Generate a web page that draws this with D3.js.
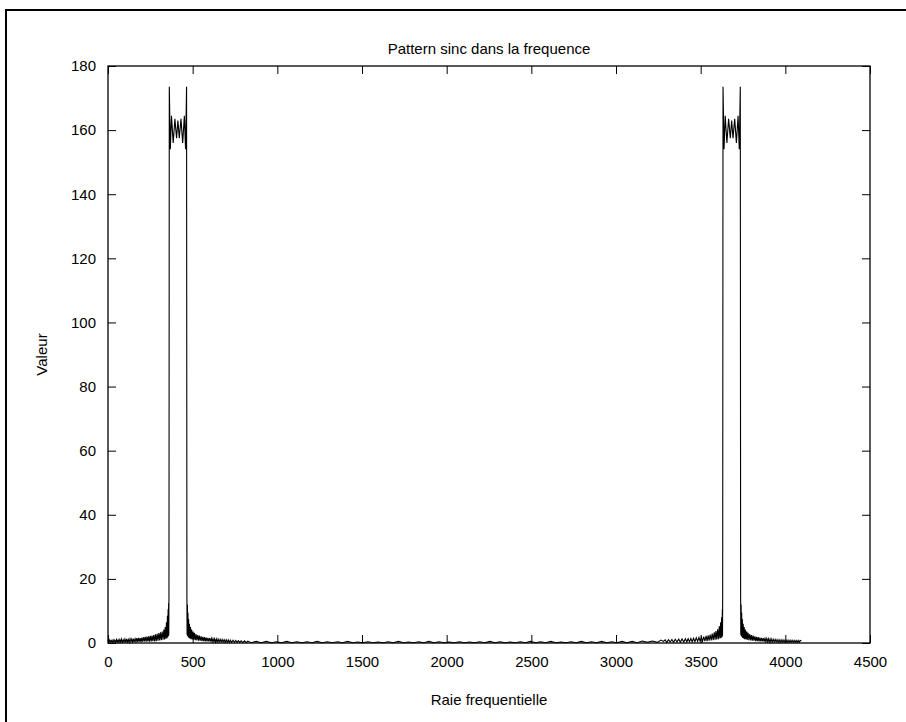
<!DOCTYPE html>
<html>
<head>
<meta charset="utf-8">
<script src="https://cdn.jsdelivr.net/npm/d3@7"></script>
<style>
  html, body { margin: 0; padding: 0; background: #fff; }
  svg { display: block; }
  text { font-family: "Liberation Sans", Arial, Helvetica, sans-serif; }
</style>
</head>
<body>
<svg id="chart" width="906" height="722"></svg>
<script>
// ---- data ----
const title = "Pattern sinc dans la frequence";
const xLabel = "Raie frequentielle";
const yLabel = "Valeur";
const xTicks = [0, 500, 1000, 1500, 2000, 2500, 3000, 3500, 4000, 4500];
const yTicks = [0, 20, 40, 60, 80, 100, 120, 140, 160, 180];

// [raie, valeur] pairs
const leftSkirt = [
  [0,0.9],[5,0.2],[10,1.0],[15,0.3],[20,0.8],[25,0.2],[30,1.0],[35,0.3],[40,0.9],[45,0.2],
  [50,1.1],[55,0.3],[60,1.0],[65,0.2],[70,1.1],[75,0.3],[80,1.2],[85,0.2],[90,1.0],[95,0.3],
  [100,1.2],[105,0.2],[110,1.3],[115,0.3],[120,1.1],[125,0.2],[130,1.3],[135,0.4],[140,1.2],[145,0.3],
  [150,1.4],[155,0.3],[160,1.3],[165,0.4],[170,1.5],[175,0.3],[180,1.6],[185,0.4],[190,1.5],[195,0.3],
  [200,1.7],[205,0.4],[210,1.8],[215,0.5],[220,1.9],[225,0.4],[230,2.0],[235,0.5],[240,2.1],[245,0.4],
  [250,2.2],[255,0.5],[260,2.3],[265,0.6],[270,2.5],[275,0.5],[280,2.7],[285,0.6],[290,2.9],[295,0.7],
  [300,3.1],[305,0.8],[310,3.3],[315,0.9],[320,3.6],[325,1.0],[330,4.2],[334,1.1],[338,5.0],[342,1.3],
  [345,6.5],[348,1.5],[351,8.5],[353,1.8],[355,10.5],[357,2.2],[358,12.5],[359,2.6],[360,15.0]
];
const leftBand = [
  [362,173.5],[368,154],[375,164.5],[385,156],[395,163.5],[405,157.5],[413,163],[421,157.5],
  [431,163.5],[441,156],[451,164.5],[458,154],[464,173.5]
];
const leftTail = [
  [466,15.0],[467,2.6],[469,12.0],[470,2.2],[472,9.5],[474,1.9],[476,7.5],[478,1.6],[481,6.0],[484,1.4],
  [487,5.0],[490,1.2],[494,4.2],[498,1.1],[502,3.6],[506,1.0],[510,3.2],[515,0.9],[520,2.8],[525,0.8],
  [530,2.5],[535,0.7],[540,2.3],[545,0.7],[550,2.1],[555,0.6],[560,1.9],[565,0.6],[570,1.8],[575,0.5],
  [580,1.7],[585,0.5],[590,1.6],[595,0.5],[600,1.5],[605,0.4],[610,1.4],[615,0.4],[620,1.35],[625,0.4],
  [630,1.3],[635,0.3],[640,1.25],[645,0.3],[650,1.2],[656,0.3],[662,1.15],[668,0.3],[674,1.1],[680,0.3],
  [686,1.05],[692,0.2],[698,1.0],[704,0.2],[710,0.95],[716,0.2],[722,0.9],[730,0.2],[738,0.85],[746,0.2],
  [754,0.8],[762,0.2],[770,0.75],[778,0.2],[786,0.7],[796,0.1],[806,0.65],[816,0.1],[826,0.6]
];
const middle = [
  [845,0.1],[875,0.5],[905,0.1],[935,0.5],[965,0.1],[995,0.4],[1025,0.1],[1055,0.5],[1085,0.1],[1115,0.4],
  [1145,0.1],[1175,0.4],[1205,0.1],[1235,0.5],[1265,0.1],[1295,0.4],[1325,0.1],[1355,0.4],[1385,0.1],[1415,0.5],
  [1445,0.1],[1475,0.3],[1505,0.1],[1535,0.4],[1565,0.1],[1595,0.3],[1625,0.1],[1655,0.4],[1685,0.1],[1715,0.5],
  [1745,0.1],[1775,0.3],[1805,0.1],[1835,0.4],[1865,0.1],[1895,0.5],[1925,0.1],[1955,0.4],[1985,0.1],[2015,0.3],
  [2045,0.1],[2075,0.4],[2105,0.1],[2135,0.3],[2165,0.1],[2195,0.4],[2225,0.1],[2255,0.5],[2285,0.1],[2315,0.4],
  [2345,0.1],[2375,0.3],[2405,0.1],[2435,0.4],[2465,0.1],[2495,0.5],[2525,0.1],[2555,0.4],[2585,0.1],[2615,0.5],
  [2645,0.1],[2675,0.3],[2705,0.1],[2735,0.4],[2765,0.1],[2795,0.5],[2825,0.1],[2855,0.4],[2885,0.1],[2915,0.5],
  [2945,0.1],[2975,0.4],[3005,0.1],[3035,0.5],[3065,0.1],[3095,0.5],[3125,0.1],[3155,0.6],[3185,0.2],[3215,0.6],
  [3245,0.2],[3265,0.9]
];
const rightSkirt = [
  [3280,0.5],[3290,1.0],[3300,0.2],[3310,1.05],[3320,0.3],[3330,1.1],[3340,0.2],[3350,1.15],[3360,0.3],[3370,1.2],
  [3380,0.3],[3390,1.25],[3400,0.3],[3410,1.3],[3418,0.3],[3426,1.35],[3434,0.4],[3442,1.4],[3450,0.4],[3458,1.5],
  [3466,0.4],[3474,1.6],[3482,0.5],[3490,1.7],[3497,0.5],[3504,1.8],[3511,0.5],[3518,2.0],[3525,0.6],[3532,2.2],
  [3538,0.6],[3544,2.4],[3550,0.7],[3556,2.6],[3562,0.8],[3568,2.9],[3574,0.9],[3580,3.3],[3585,1.0],[3590,3.7],
  [3595,1.1],[3600,4.3],[3605,1.2],[3610,5.2],[3614,1.4],[3618,6.5],[3621,1.6],[3624,8.0],[3626,1.9],[3628,10.5],
  [3629,2.3],[3630,15.0]
];
const rightBand = [
  [3632,173.5],[3638,154],[3645,164.5],[3655,156],[3665,163.5],[3675,157.5],[3683,163],[3691,157.5],
  [3701,163.5],[3711,156],[3721,164.5],[3728,154],[3734,173.5]
];
const rightTail = [
  [3736,15.0],[3737,2.6],[3739,12.0],[3740,2.2],[3742,9.5],[3744,1.9],[3746,7.5],[3748,1.6],[3751,6.0],[3754,1.4],
  [3757,5.0],[3760,1.2],[3764,4.2],[3768,1.1],[3772,3.6],[3776,1.0],[3780,3.2],[3785,0.9],[3790,2.8],[3795,0.8],
  [3800,2.5],[3805,0.7],[3810,2.3],[3815,0.7],[3820,2.1],[3825,0.6],[3830,1.9],[3835,0.6],[3840,1.8],[3845,0.5],
  [3850,1.7],[3855,0.5],[3860,1.6],[3865,0.5],[3870,1.5],[3875,0.4],[3880,1.4],[3885,0.4],[3890,1.35],[3895,0.4],
  [3900,1.3],[3905,0.3],[3910,1.25],[3915,0.3],[3920,1.2],[3926,0.3],[3932,1.15],[3938,0.3],[3944,1.1],[3950,0.3],
  [3956,1.05],[3962,0.2],[3968,1.0],[3974,0.2],[3980,1.0],[3986,0.2],[3992,0.95],[3998,0.2],[4004,0.9],[4010,0.2],
  [4016,0.9],[4022,0.2],[4028,0.85],[4034,0.2],[4040,0.85],[4046,0.2],[4052,0.8],[4058,0.2],[4064,0.8],[4070,0.2],
  [4076,0.8],[4082,0.2],[4088,0.8],[4095,0.7]
];

const series = [].concat(leftSkirt, leftBand, leftTail, middle, rightSkirt, rightBand, rightTail);

// ---- layout ----
const svg = d3.select("#chart");
const L = 108, R = 870, T = 66, B = 643;

svg.append("rect").attr("x", 6).attr("y", 10).attr("width", 910).attr("height", 730)
  .attr("fill", "none").attr("stroke", "#000").attr("stroke-width", 2);

const x = d3.scaleLinear().domain([0, 4500]).range([L, R]);
const y = d3.scaleLinear().domain([0, 180]).range([B, T]);

const fs = 15;

const gx = svg.append("g").attr("transform", `translate(0,${B})`)
  .call(d3.axisBottom(x).tickValues(xTicks).tickFormat(d3.format("d")).tickSize(-8).tickPadding(13));
const gxt = svg.append("g").attr("transform", `translate(0,${T})`)
  .call(d3.axisTop(x).tickValues(xTicks).tickFormat("").tickSize(-8));
const gy = svg.append("g").attr("transform", `translate(${L},0)`)
  .call(d3.axisLeft(y).tickValues(yTicks).tickFormat(d3.format("d")).tickSize(-8).tickPadding(12));
const gyr = svg.append("g").attr("transform", `translate(${R},0)`)
  .call(d3.axisRight(y).tickValues(yTicks).tickFormat("").tickSize(-8));

[gx, gxt, gy, gyr].forEach(g => {
  g.select(".domain").remove();
  g.selectAll(".tick line").attr("stroke", "#000").attr("stroke-width", 1);
  g.selectAll("text").attr("fill", "#000").style("font-size", fs + "px")
    .style("font-family", '"Liberation Sans", Arial, Helvetica, sans-serif');
});

svg.append("rect").attr("x", L).attr("y", T).attr("width", R - L).attr("height", B - T)
  .attr("fill", "none").attr("stroke", "#000").attr("stroke-width", 1.3);

const line = d3.line().x(d => x(d[0])).y(d => y(d[1]));
svg.append("path").datum(series).attr("d", line)
  .attr("fill", "none").attr("stroke", "#000").attr("stroke-width", 1.1)
  .attr("stroke-linejoin", "miter");

svg.append("text").attr("x", (L + R) / 2).attr("y", 54).attr("text-anchor", "middle")
  .style("font-size", fs + "px").text(title);
svg.append("text").attr("x", (L + R) / 2).attr("y", 705).attr("text-anchor", "middle")
  .style("font-size", fs + "px").text(xLabel);
svg.append("text").attr("transform", `translate(47,${(T + B) / 2}) rotate(-90)`)
  .attr("text-anchor", "middle").style("font-size", fs + "px").text(yLabel);
</script>
</body>
</html>
